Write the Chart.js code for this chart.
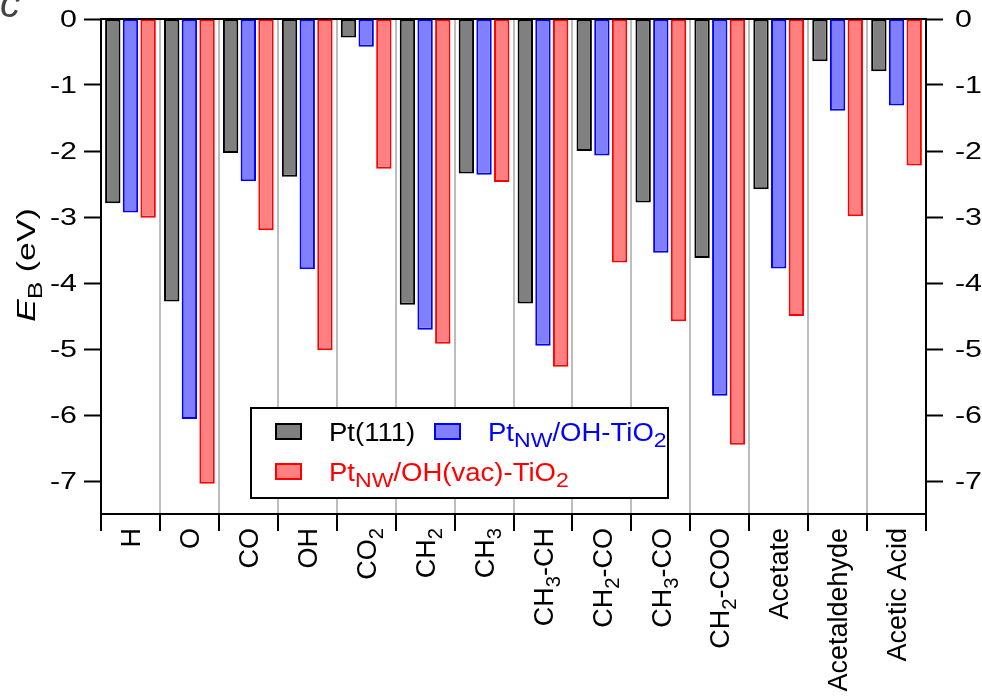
<!DOCTYPE html>
<html>
<head>
<meta charset="utf-8">
<script src="https://cdn.jsdelivr.net/npm/chart.js@4.4.1/dist/chart.umd.min.js"></script>
<style>
  html, body { margin: 0; padding: 0; background: #fff; }
  #wrap { width: 982px; height: 699px; position: relative; }
</style>
</head>
<body>
<div id="wrap"><canvas id="chart" width="982" height="699"></canvas></div>
<script>
// Adsorbates; "_{..}" marks a subscript
const categories = ['H', 'O', 'CO', 'OH', 'CO_{2}', 'CH_{2}', 'CH_{3}', 'CH_{3}-CH', 'CH_{2}-CO',
  'CH_{3}-CO', 'CH_{2}-COO', 'Acetate', 'Acetaldehyde', 'Acetic Acid'];

const seriesNames = ['Pt(111)', 'Pt_{NW}/OH-TiO_{2}', 'Pt_{NW}/OH(vac)-TiO_{2}'];

// Binding energies E_B (eV)
const pt111 = [-2.79, -4.28, -2.03, -2.39, -0.28, -4.33, -2.34, -4.31, -2.00, -2.78, -3.62, -2.58, -0.64, -0.79];
const ptNwOH = [-2.93, -6.06, -2.46, -3.79, -0.42, -4.71, -2.36, -4.95, -2.07, -3.54, -5.71, -3.78, -1.39, -1.31];
const ptNwVac = [-3.01, -7.04, -3.20, -5.02, -2.27, -4.92, -2.47, -5.27, -3.69, -4.58, -6.45, -4.50, -2.99, -2.22];

const yTicks = [0, -1, -2, -3, -4, -5, -6, -7];

const FONT = '"Liberation Sans", Arial, Helvetica, sans-serif';

// ---- rich text helpers: "_{x}" subscript, "*{x}" italic ----
function parseRich(s) {
  const out = [];
  const re = /_\{([^}]*)\}|\*\{([^}]*)\}/g;
  let last = 0, m;
  while ((m = re.exec(s))) {
    if (m.index > last) out.push({ t: s.slice(last, m.index) });
    if (m[1] !== undefined) out.push({ t: m[1], sub: true });
    else out.push({ t: m[2], it: true });
    last = re.lastIndex;
  }
  if (last < s.length) out.push({ t: s.slice(last) });
  return out;
}
function segFont(g, size, subScale) {
  const sz = g.sub ? size * subScale : size;
  return (g.it ? 'italic ' : '') + sz + 'px ' + FONT;
}
function measureRich(ctx, s, size, stretch = 1, subScale = 0.72) {
  let w = 0;
  for (const g of parseRich(s)) { ctx.font = segFont(g, size, subScale); w += ctx.measureText(g.t).width; }
  return w * stretch;
}
function drawRich(ctx, s, x, y, size, color, stretch = 1, subScale = 0.72) {
  ctx.save();
  ctx.translate(x, y);
  ctx.scale(stretch, 1);
  ctx.fillStyle = color;
  ctx.textAlign = 'left';
  ctx.textBaseline = 'alphabetic';
  let cx = 0;
  for (const g of parseRich(s)) {
    ctx.font = segFont(g, size, subScale);
    ctx.fillText(g.t, cx, g.sub ? size * 0.26 : 0);
    cx += ctx.measureText(g.t).width;
  }
  ctx.restore();
}

// Rotated category labels under the bottom axis
const categoryLabels = {
  id: 'categoryLabels',
  afterDraw(chart, args, o) {
    const ctx = chart.ctx, xs = chart.scales.x;
    categories.forEach((lab, i) => {
      const px = xs.getPixelForValue(i);
      ctx.save();
      ctx.translate(px, xs.top + o.gap);
      ctx.rotate(-Math.PI / 2);
      const w = measureRich(ctx, lab, o.size, o.stretch, o.sub);
      drawRich(ctx, lab, -w, o.size * 0.36, o.size, '#000', o.stretch, o.sub);
      ctx.restore();
    });
  }
};

// Value labels on the left and right axes
const axisNumbers = {
  id: 'axisNumbers',
  afterDraw(chart, args, o) {
    const ctx = chart.ctx, ys = chart.scales.y;
    yTicks.forEach(v => {
      const py = ys.getPixelForValue(v);
      const txt = String(v);
      const w = measureRich(ctx, txt, o.size, o.stretch);
      drawRich(ctx, txt, o.leftX - w, py + o.size * 0.36, o.size, '#000', o.stretch);
      drawRich(ctx, txt, o.rightX, py + o.size * 0.36, o.size, '#000', o.stretch);
    });
  }
};

// Y axis title with italic symbol and subscript, plus panel letter
const yTitle = {
  id: 'yTitle',
  afterDraw(chart, args, o) {
    const ctx = chart.ctx;
    ctx.save();
    ctx.translate(o.x, o.y);
    ctx.rotate(-Math.PI / 2);
    const w = measureRich(ctx, o.text, o.size, o.stretch, o.sub);
    drawRich(ctx, o.text, -w / 2, o.size * 0.36, o.size, '#000', o.stretch, o.sub);
    ctx.restore();
    ctx.save();
    ctx.font = 'italic ' + o.panelSize + 'px ' + FONT;
    ctx.fillStyle = '#444';
    ctx.textBaseline = 'alphabetic';
    ctx.fillText(o.panel, o.panelX, o.panelY);
    ctx.restore();
  }
};

// Boxed legend with rich labels
const boxLegend = {
  id: 'boxLegend',
  afterDraw(chart, args, o) {
    const ctx = chart.ctx;
    ctx.save();
    ctx.fillStyle = '#fff';
    ctx.fillRect(o.box[0], o.box[1], o.box[2] - o.box[0], o.box[3] - o.box[1]);
    ctx.strokeStyle = '#000';
    ctx.lineWidth = 2;
    ctx.strokeRect(o.box[0], o.box[1], o.box[2] - o.box[0], o.box[3] - o.box[1]);
    chart.data.datasets.forEach((ds, i) => {
      const [sx, sy] = o.items[i];
      ctx.fillStyle = ds.backgroundColor;
      ctx.fillRect(sx, sy, o.sw, o.sh);
      ctx.strokeStyle = ds.borderColor;
      ctx.lineWidth = 2;
      ctx.strokeRect(sx + 1, sy + 1, o.sw - 2, o.sh - 2);
      drawRich(ctx, seriesNames[i], sx + o.textGap, sy + o.sh / 2 + o.size * 0.36, o.size,
        o.textColors[i], o.stretch, o.sub);
    });
    ctx.restore();
  }
};

const catGrid = ctx => (ctx.type !== 'tick' || ctx.index === 0) ? 'rgba(0,0,0,0)' : '#bdbdbd';

const yAxisCommon = {
  type: 'linear',
  min: -7.5,
  max: 0,
  afterBuildTicks: s => { s.ticks = yTicks.map(v => ({ value: v })); },
  grid: { drawOnChartArea: false, drawTicks: true, tickLength: 17, tickWidth: 2, tickColor: '#000', color: '#000' },
  border: { display: true, color: '#000', width: 2 },
  ticks: { display: false }
};

new Chart(document.getElementById('chart'), {
  type: 'bar',
  data: {
    labels: categories,
    datasets: [
      { label: seriesNames[0], data: pt111, backgroundColor: '#808080', borderColor: '#000000' },
      { label: seriesNames[1], data: ptNwOH, backgroundColor: '#8080ff', borderColor: '#0000ff' },
      { label: seriesNames[2], data: ptNwVac, backgroundColor: '#ff8080', borderColor: '#ff0000' }
    ]
  },
  options: {
    responsive: false,
    devicePixelRatio: 1,
    animation: false,
    layout: { padding: { top: 19, left: 0, right: 0, bottom: 0 } },
    datasets: {
      bar: { borderWidth: 2, borderSkipped: false, categoryPercentage: 0.9, barPercentage: 0.87 }
    },
    scales: {
      x: {
        type: 'category',
        position: 'bottom',
        offset: true,
        grid: { offset: true, drawOnChartArea: true, color: catGrid, lineWidth: 2, tickColor: '#000', tickLength: 17, tickWidth: 2 },
        border: { display: true, color: '#000', width: 2 },
        ticks: { display: false },
        afterFit: s => { s.height = 185; }
      },
      xTop: {
        type: 'category',
        position: 'top',
        grid: { display: false },
        ticks: { display: false },
        border: { display: true, color: '#000', width: 2 },
        afterFit: s => { s.height = 0; }
      },
      y: Object.assign({}, yAxisCommon, { position: 'left', afterFit: s => { s.width = 101; } }),
      yRight: Object.assign({}, yAxisCommon, { position: 'right', afterFit: s => { s.width = 56; } })
    },
    plugins: {
      legend: { display: false },
      tooltip: { enabled: false },
      categoryLabels: { size: 27, gap: 14, stretch: 1, sub: 0.75 },
      axisNumbers: { size: 23, stretch: 1.32, leftX: 77, rightX: 955 },
      yTitle: { text: '*{E}_{B} (eV)', x: 26, y: 265, size: 26, stretch: 1.3, sub: 0.78,
                panel: 'c', panelSize: 40, panelX: 0, panelY: 17 },
      boxLegend: {
        box: [251, 408, 668, 498],
        items: [[275, 423], [434, 423], [275, 463]],
        sw: 27, sh: 17, textGap: 54, size: 25, stretch: 1.1, sub: 0.84,
        textColors: ['#000', '#0000ff', '#ff0000']
      }
    }
  },
  plugins: [categoryLabels, axisNumbers, yTitle, boxLegend]
});
</script>
</body>
</html>
